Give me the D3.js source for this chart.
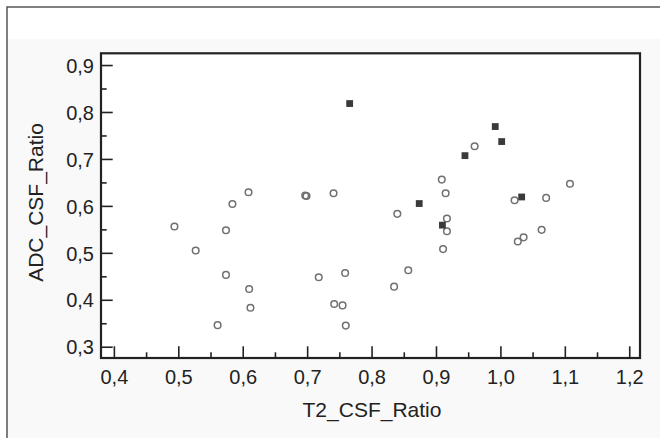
<!DOCTYPE html>
<html>
<head>
<meta charset="utf-8">
<script src="https://cdn.jsdelivr.net/npm/d3@7/dist/d3.min.js"></script>
<style>
  html, body { margin: 0; padding: 0; background: #fff; }
  svg { display: block; font-family: "Liberation Sans", Arial, sans-serif; }
</style>
</head>
<body>
<svg id="chart" width="660" height="438"></svg>
<script>
// ---- data ----
const openT2  = [0.494, 0.527, 0.561, 0.574, 0.574, 0.584, 0.609, 0.610, 0.612, 0.697, 0.699, 0.718, 0.741, 0.742, 0.755, 0.759, 0.760,
                 0.835, 0.840, 0.857, 0.909, 0.911, 0.915, 0.917, 0.917, 0.960, 1.022, 1.027, 1.036, 1.064, 1.071, 1.108];
const openADC = [0.556, 0.505, 0.346, 0.548, 0.453, 0.604, 0.629, 0.423, 0.383, 0.622, 0.621, 0.448, 0.627, 0.391, 0.388, 0.457, 0.345,
                 0.428, 0.583, 0.463, 0.656, 0.508, 0.627, 0.573, 0.546, 0.727, 0.612, 0.524, 0.533, 0.549, 0.617, 0.647];
const filledT2  = [0.766, 0.874, 0.910, 0.945, 0.992, 1.002, 1.033];
const filledADC = [0.818, 0.605, 0.559, 0.707, 0.769, 0.737, 0.619];

const xMajorTicks = [0.4, 0.5, 0.6, 0.7, 0.8, 0.9, 1.0, 1.1, 1.2];
const xMinorTicks = [0.45, 0.55, 0.65, 0.75, 0.85, 0.95, 1.05, 1.15];
const yMajorTicks = [0.3, 0.4, 0.5, 0.6, 0.7, 0.8, 0.9];
const yMinorTicks = [0.35, 0.45, 0.55, 0.65, 0.75, 0.85];
const xTitle = "T2_CSF_Ratio";
const yTitle = "ADC_CSF_Ratio";

// ---- layout ----
const FONT = "Liberation Sans, Arial, sans-serif";
const svg = d3.select("#chart");
const L = 101, R = 640, T = 53.3, B = 358;
const x = d3.scaleLinear().domain([0.38, 1.2167]).range([L, R]);
const y = d3.scaleLinear().domain([0.276, 0.925]).range([B, T]);
const fmt = d => d3.format(".1f")(d).replace(".", ",");

// backgrounds & outer border
svg.append("rect").attr("x", 7).attr("y", 39).attr("width", 660).attr("height", 420).attr("fill", "#f9f9f9");
svg.append("rect").attr("x", L).attr("y", T).attr("width", R - L).attr("height", B - T).attr("fill", "#ffffff");
svg.append("rect").attr("x", 7).attr("y", 7).attr("width", 700).attr("height", 500)
  .attr("fill", "none").attr("stroke", "#4a4a4a").attr("stroke-width", 1.4);

// axes
const styleAxis = g => {
  g.attr("font-family", FONT).attr("font-size", 20);
  g.select(".domain").remove();
  g.selectAll("line").attr("stroke", "#222").attr("stroke-width", 1.6);
  g.selectAll("text").attr("fill", "#222");
};

svg.append("g").attr("transform", `translate(0,${B})`)
  .call(d3.axisBottom(x).tickValues(xMajorTicks).tickFormat(fmt).tickSize(-11.7).tickPadding(12))
  .call(styleAxis);
svg.append("g").attr("transform", `translate(0,${B})`)
  .call(d3.axisBottom(x).tickValues(xMinorTicks).tickFormat("").tickSize(-5.7))
  .call(styleAxis);
svg.append("g").attr("transform", `translate(${L},0)`)
  .call(d3.axisLeft(y).tickValues(yMajorTicks).tickFormat(fmt).tickSize(-11.7).tickPadding(7))
  .call(styleAxis)
  .selectAll("text").attr("dy", "0.36em");
svg.append("g").attr("transform", `translate(${L},0)`)
  .call(d3.axisLeft(y).tickValues(yMinorTicks).tickFormat("").tickSize(-5.7))
  .call(styleAxis);

// frame
svg.append("rect").attr("x", L).attr("y", T).attr("width", R - L).attr("height", B - T)
  .attr("fill", "none").attr("stroke", "#222").attr("stroke-width", 2.2);

// points: open circles
svg.append("g").selectAll("circle").data(openT2.map((v, i) => [v, openADC[i]])).join("circle")
  .attr("cx", d => x(d[0])).attr("cy", d => y(d[1])).attr("r", 3.3)
  .attr("fill", "none").attr("stroke", "#707070").attr("stroke-width", 1.5);

// points: filled squares
const s = 6.8;
svg.append("g").selectAll("rect").data(filledT2.map((v, i) => [v, filledADC[i]])).join("rect")
  .attr("x", d => x(d[0]) - s / 2).attr("y", d => y(d[1]) - s / 2)
  .attr("width", s).attr("height", s).attr("fill", "#3a3a3a");

// titles
svg.append("text").attr("x", 372).attr("y", 416.5).attr("text-anchor", "middle")
  .attr("font-family", FONT).attr("font-size", 21).attr("fill", "#222").text(xTitle);
svg.append("text").attr("transform", "translate(43,202.5) rotate(-90)").attr("text-anchor", "middle")
  .attr("font-family", FONT).attr("font-size", 21).attr("fill", "#222").text(yTitle);
</script>
</body>
</html>
